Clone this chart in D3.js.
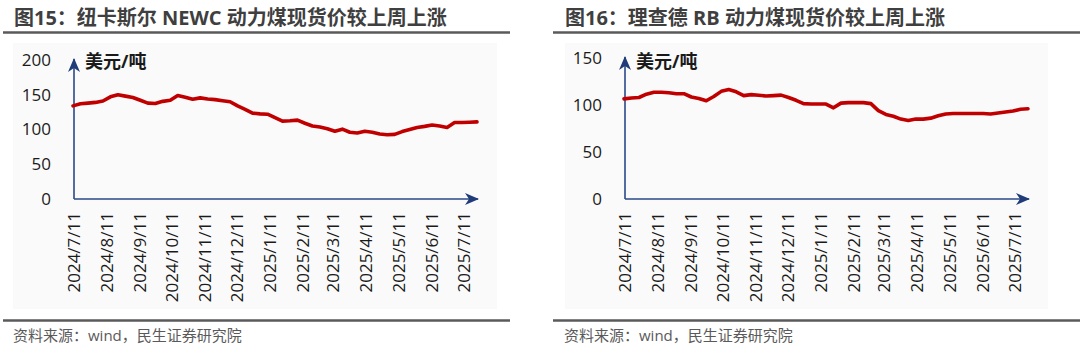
<!DOCTYPE html>
<html><head><meta charset="utf-8">
<script src="https://cdn.jsdelivr.net/npm/d3@7"></script>
<style>
html,body{margin:0;padding:0;background:#fff;}
svg{display:block;}
text{font-family:"Open Sans","Noto Sans CJK SC",sans-serif;}
</style></head>
<body>
<svg id="chart" width="1080" height="347"></svg>
<script>
// ---------- data ----------
const startDate = "2024-07-11";
const tickLabels = ["2024/7/11","2024/8/11","2024/9/11","2024/10/11","2024/11/11","2024/12/11",
  "2025/1/11","2025/2/11","2025/3/11","2025/4/11","2025/5/11","2025/6/11","2025/7/11"];
const newcValues = [134,137,138,139,141,147,150,148,146,142,138,137.5,140.5,142,149,146.5,143.5,145.5,144,143,
  141.5,140,134,129,123.5,122.5,122,117,112,112.5,113.5,109,105,103.5,101,97.5,100.5,96,95,97.5,
  96,93.5,92.5,93,97,100,103,104.5,106.5,105,103,110,110,110.5,111];
const rbValues = [106.5,107.5,108,111.5,113.5,113.5,113,112,112,108.5,107,104.5,109,114.5,116.5,114,110,111,110.3,109.6,
  110,110.5,108,105,101.5,101,101,101,97,102,102.5,102.5,102.5,101.5,94,90,88,85,83.5,85,
  85,86,88.5,90.5,91,91,91,91,91,90.5,91.5,92.5,93.6,95.5,96];
const leftTitle = "图15：纽卡斯尔 NEWC 动力煤现货价较上周上涨";
const rightTitle = "图16：理查德 RB 动力煤现货价较上周上涨";
const unitLabel = "美元/吨";
const sourceText = "资料来源：wind，民生证券研究院";
const leftYTicks = [0,50,100,150,200];
const rightYTicks = [0,50,100,150];

// ---------- drawing ----------
const svg = d3.select("#chart");
const parse = d3.timeParse("%Y-%m-%d");
const parseTick = d3.timeParse("%Y/%m/%d");
const d0 = parse(startDate);
function series(vals){ return vals.map((v,i)=>({date:d3.timeDay.offset(d0, 7*i), value:v})); }

const defs = svg.append("defs");
defs.append("marker").attr("id","arrow").attr("viewBox","0 0 14 12")
  .attr("refX",13).attr("refY",6).attr("markerWidth",14).attr("markerHeight",12)
  .attr("markerUnits","userSpaceOnUse").attr("orient","auto")
  .append("path").attr("d","M0,0 L14,6 L0,12 L4,6 Z").attr("fill","#1f3b78");

function panel(o){
  const g = svg.append("g");
  // background
  g.append("rect").attr("x",o.bgX0).attr("y",43).attr("width",o.bgX1-o.bgX0).attr("height",266).attr("fill","#fafafa");
  // title
  g.append("text").attr("x",o.titleX).attr("y",25).text(o.title)
    .attr("font-family","'Noto Sans CJK SC',sans-serif").attr("font-weight","bold")
    .attr("font-size",20).attr("fill","#3f3f3f");
  g.append("line").attr("x1",o.ruleX0).attr("x2",o.ruleX1).attr("y1",32.5).attr("y2",32.5)
    .attr("stroke","#5a5a5a").attr("stroke-width",2.5);
  // footer
  g.append("line").attr("x1",o.ruleX0).attr("x2",o.ruleX1).attr("y1",320.5).attr("y2",320.5)
    .attr("stroke","#5a5a5a").attr("stroke-width",2.5);
  g.append("text").attr("x",o.titleX-1).attr("y",341).text(sourceText)
    .attr("font-family","'Noto Sans CJK SC',sans-serif").attr("font-size",15).attr("fill","#5a5a5a");

  const data = series(o.values);
  const x = d3.scaleTime().domain(d3.extent(data,d=>d.date)).range([o.x0,o.x1]);
  const y = d3.scaleLinear().domain([0,o.yMax]).range([199,o.yTop]);

  // y tick labels
  const yAxis = d3.axisLeft(y).tickValues(o.yTicks).tickSize(0).tickPadding(0);
  const ya = g.append("g").attr("transform",`translate(${o.x0-22},0)`).call(yAxis);
  ya.select(".domain").remove();
  ya.selectAll("text").attr("font-size",17).attr("fill","#1a1a1a")
    .attr("font-family","'Open Sans',sans-serif");

  // x tick labels (rotated)
  const xAxis = d3.axisBottom(x).tickValues(tickLabels.map(parseTick)).tickSize(0)
    .tickFormat((d,i)=>tickLabels[i]);
  const xa = g.append("g").attr("transform","translate(0,199)").call(xAxis);
  xa.select(".domain").remove();
  xa.selectAll("text").attr("font-size",17).attr("fill","#1a1a1a")
    .attr("font-family","'Open Sans',sans-serif")
    .attr("transform","rotate(-90)").attr("text-anchor","end")
    .attr("x",-13).attr("y",0).attr("dy","0.36em");

  // axes with arrows
  g.append("line").attr("x1",o.x0+1).attr("y1",199).attr("x2",o.x0+1).attr("y2",o.yTop-1)
    .attr("stroke","#2a4a8a").attr("stroke-width",1.6).attr("marker-end","url(#arrow)");
  g.append("line").attr("x1",o.x0+1).attr("y1",199).attr("x2",o.x1+1).attr("y2",199)
    .attr("stroke","#2a4a8a").attr("stroke-width",1.6).attr("marker-end","url(#arrow)");

  // unit label
  g.append("text").attr("x",o.x0+12).attr("y",68).text(unitLabel)
    .attr("font-family","'Noto Sans CJK SC',sans-serif").attr("font-weight","bold")
    .attr("font-size",18).attr("fill","#1a1a1a");

  // line
  g.append("path").datum(data)
    .attr("d",d3.line().x(d=>x(d.date)).y(d=>y(d.value)))
    .attr("fill","none").attr("stroke","#c00000").attr("stroke-width",3.6)
    .attr("stroke-linejoin","round").attr("stroke-linecap","round");
}

panel({title:leftTitle, values:newcValues, yMax:200, yTicks:leftYTicks, yTop:60,
  x0:73, x1:477, titleX:14, ruleX0:3, ruleX1:510, bgX0:13, bgX1:497});
panel({title:rightTitle, values:rbValues, yMax:150, yTicks:rightYTicks, yTop:58,
  x0:624, x1:1028, titleX:565, ruleX0:553, ruleX1:1080, bgX0:565, bgX1:1048});
</script>
</body></html>
